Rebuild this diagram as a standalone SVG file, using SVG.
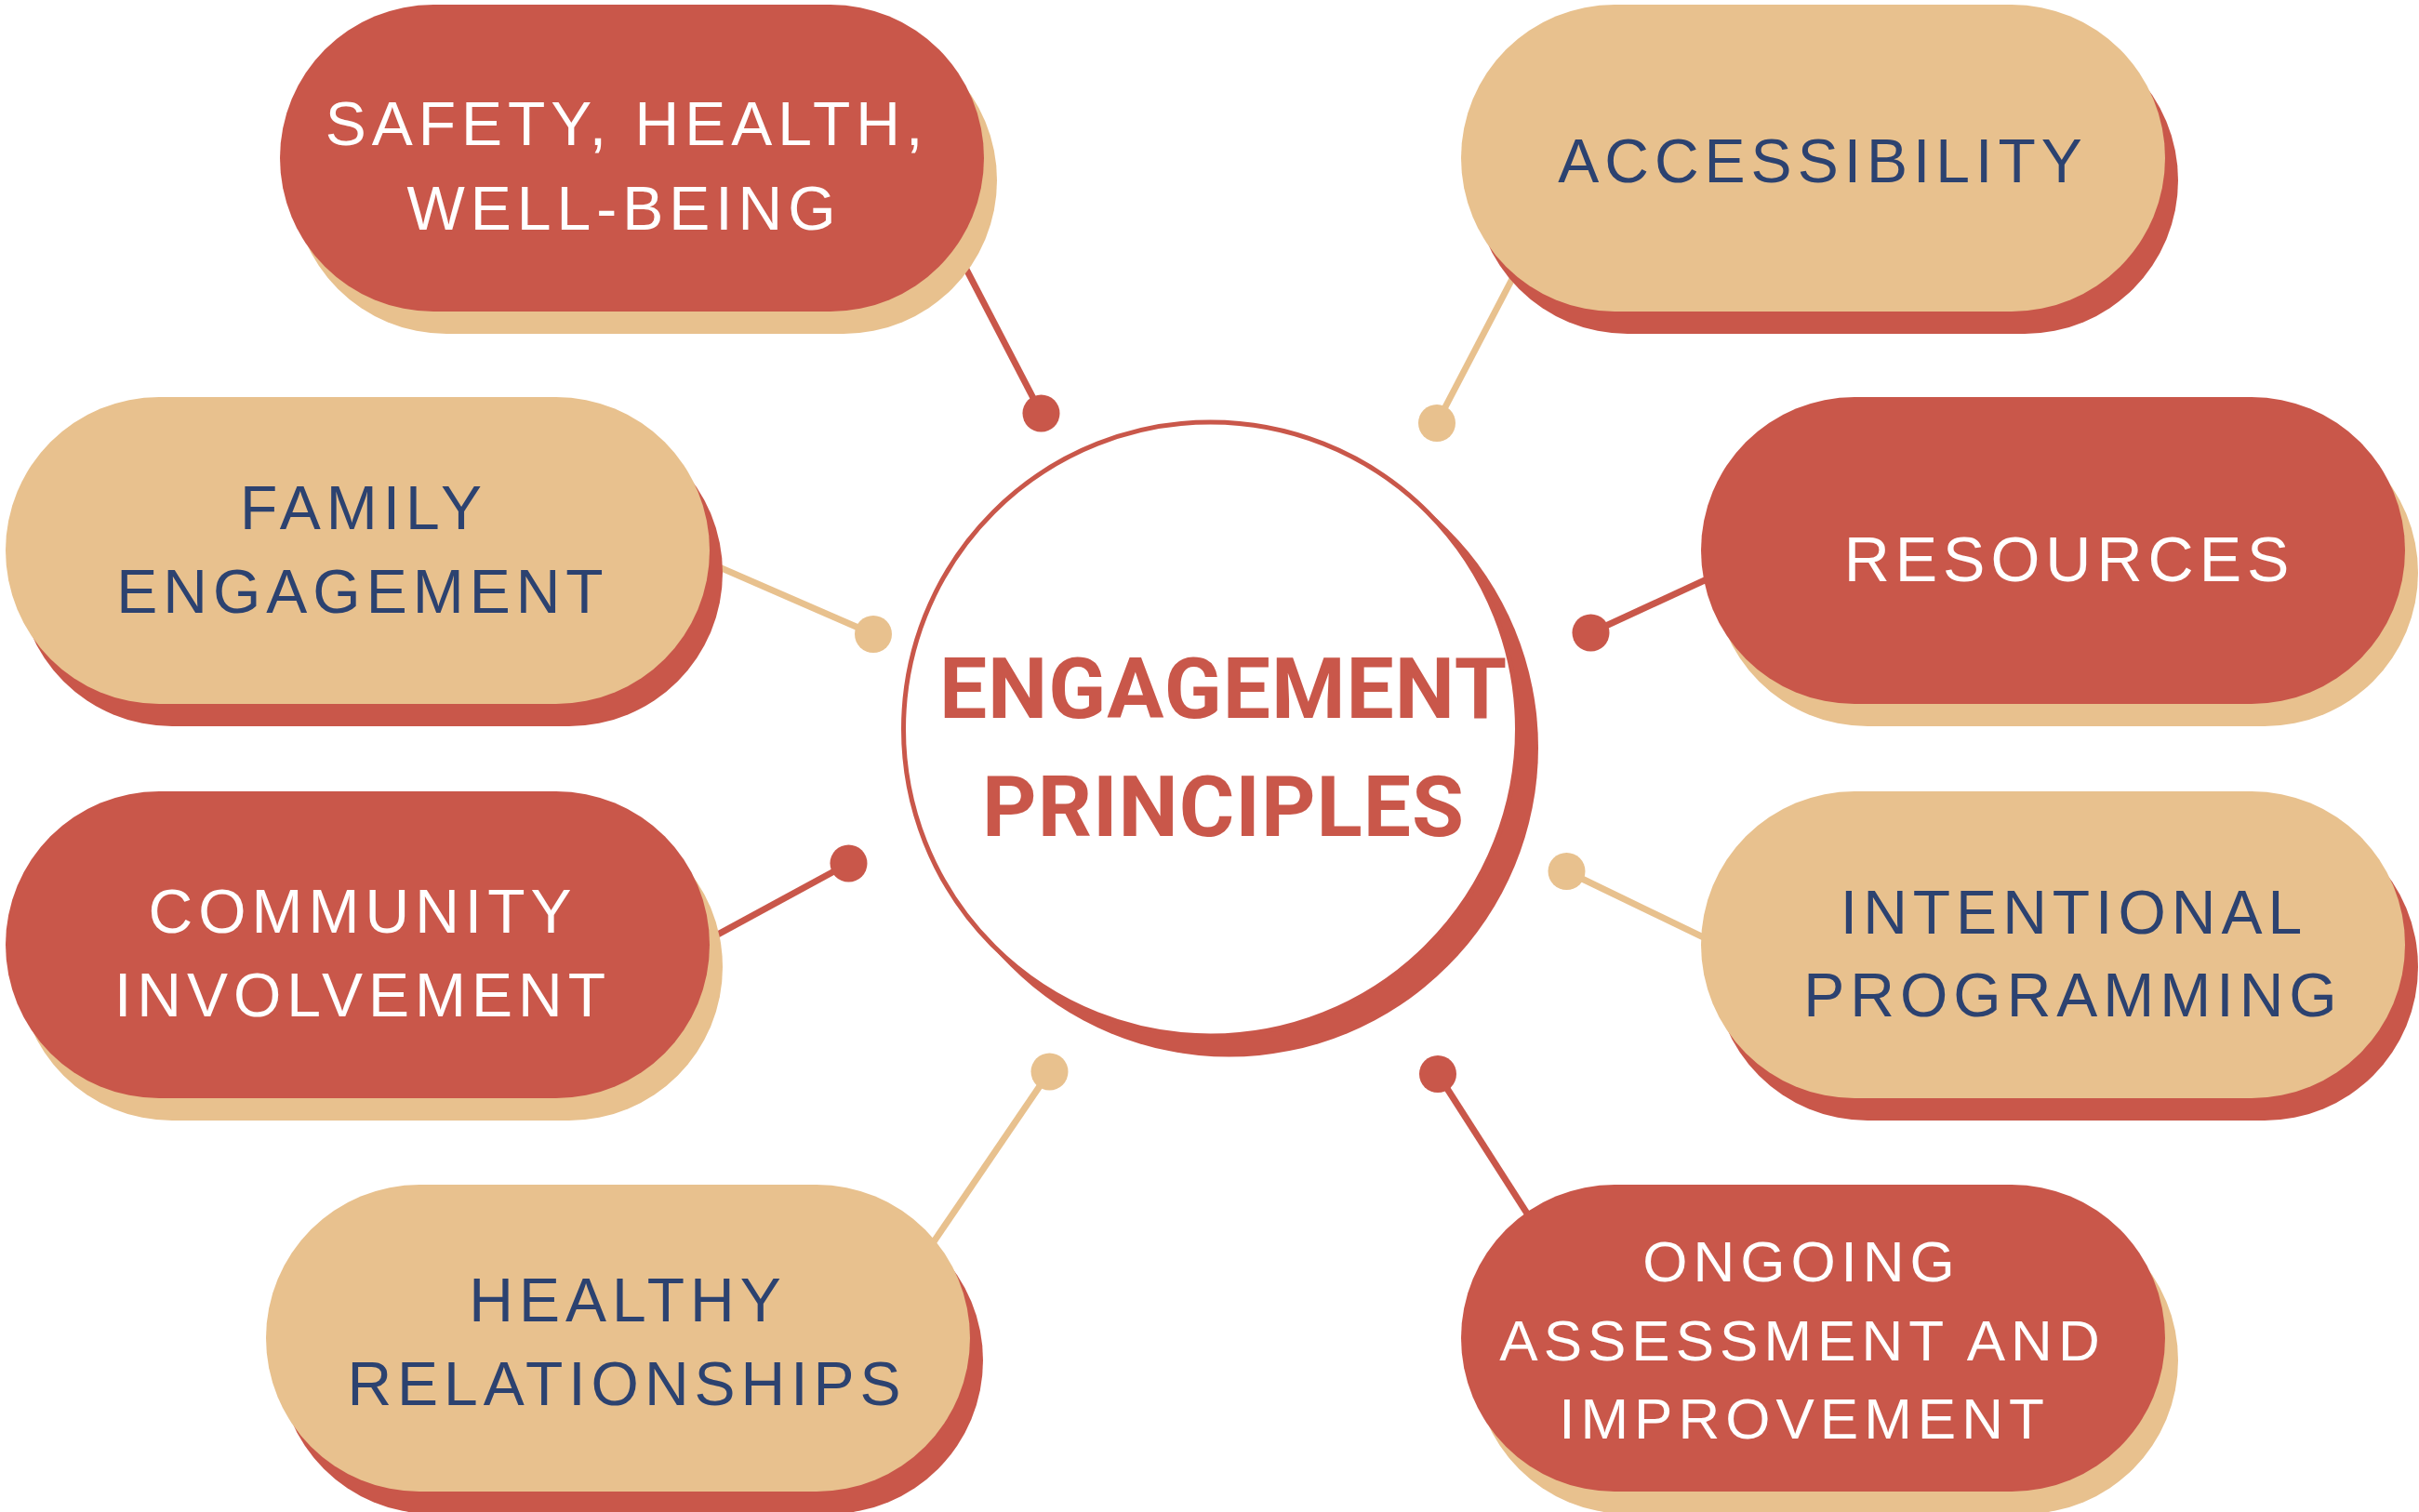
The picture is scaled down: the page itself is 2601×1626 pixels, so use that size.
<svg xmlns="http://www.w3.org/2000/svg" width="2601" height="1626" viewBox="0 0 2601 1626">
<style>
.red{fill:#C9574A}
.tan{fill:#E8C18E}
.lbl{font-family:"Liberation Sans",Arial,sans-serif;font-size:66px;letter-spacing:6px;text-anchor:middle}
.sm{font-size:62px}
.w{fill:#FFFFFF}
.b{fill:#2C4270}
.title{font-family:Roboto,"Liberation Sans",sans-serif;font-weight:700;font-size:91px;letter-spacing:1px;fill:#C9574A;text-anchor:middle}
.lr{stroke:#C9574A;stroke-width:7;fill:none}
.lt{stroke:#E8C18E;stroke-width:7;fill:none}
</style>
<rect width="2601" height="1626" fill="#FFFFFF"/>
<g id="connectors">
  <line class="lr" x1="1020" y1="253" x2="1119.5" y2="444.5"/>
  <circle class="red" cx="1119.5" cy="444.5" r="20"/>
  <line class="lt" x1="1640" y1="273" x2="1545" y2="455"/>
  <circle class="tan" cx="1545" cy="455" r="20"/>
  <line class="lt" x1="700" y1="578" x2="939" y2="682"/>
  <circle class="tan" cx="939" cy="682" r="20"/>
  <line class="lr" x1="1900" y1="593" x2="1710.5" y2="680.5"/>
  <circle class="red" cx="1710.5" cy="680.5" r="20"/>
  <line class="lr" x1="700" y1="1044" x2="912.5" y2="928.5"/>
  <circle class="red" cx="912.5" cy="928.5" r="20"/>
  <line class="lt" x1="1900" y1="1041" x2="1684.5" y2="937"/>
  <circle class="tan" cx="1684.5" cy="937" r="20"/>
  <line class="lt" x1="960" y1="1400" x2="1128.5" y2="1152.5"/>
  <circle class="tan" cx="1128.5" cy="1152.5" r="20"/>
  <line class="lr" x1="1690" y1="1380" x2="1546" y2="1155"/>
  <circle class="red" cx="1546" cy="1155" r="20"/>
</g>
<g id="center">
  <circle class="red" cx="1321.5" cy="804" r="332.5"/>
  <circle cx="1301.5" cy="784" r="330" fill="#FFFFFF" stroke="#C9574A" stroke-width="5"/>
  <text class="title" x="1315.5" y="772">ENGAGEMENT</text>
  <text class="title" x="1315.5" y="899">PRINCIPLES</text>
</g>
<g id="safety">
  <rect class="tan" x="315" y="29" width="757" height="330" rx="165"/>
  <rect class="red" x="301" y="5" width="757" height="330" rx="165"/>
  <text class="lbl w" x="674" y="156">SAFETY, HEALTH,</text>
  <text class="lbl w" x="671" y="247">WELL-BEING</text>
</g>
<g id="accessibility">
  <rect class="red" x="1585" y="29" width="757" height="330" rx="165"/>
  <rect class="tan" x="1571" y="5" width="757" height="330" rx="165"/>
  <text class="lbl b" x="1960" y="196">ACCESSIBILITY</text>
</g>
<g id="family">
  <rect class="red" x="20" y="451" width="757" height="330" rx="165"/>
  <rect class="tan" x="6" y="427" width="757" height="330" rx="165"/>
  <text class="lbl b" x="391" y="569">FAMILY</text>
  <text class="lbl b" x="390" y="659">ENGAGEMENT</text>
</g>
<g id="resources">
  <rect class="tan" x="1843" y="451" width="757" height="330" rx="165"/>
  <rect class="red" x="1829" y="427" width="757" height="330" rx="165"/>
  <text class="lbl w" x="2225" y="625" style="font-size:68px">RESOURCES</text>
</g>
<g id="community">
  <rect class="tan" x="20" y="875" width="757" height="330" rx="165"/>
  <rect class="red" x="6" y="851" width="757" height="330" rx="165"/>
  <text class="lbl w" x="390" y="1003">COMMUNITY</text>
  <text class="lbl w" x="390" y="1093">INVOLVEMENT</text>
</g>
<g id="intentional">
  <rect class="red" x="1843" y="875" width="757" height="330" rx="165"/>
  <rect class="tan" x="1829" y="851" width="757" height="330" rx="165"/>
  <text class="lbl b" x="2230" y="1004">INTENTIONAL</text>
  <text class="lbl b" x="2229" y="1093">PROGRAMMING</text>
</g>
<g id="healthy">
  <rect class="red" x="300" y="1298" width="757" height="330" rx="165"/>
  <rect class="tan" x="286" y="1274" width="757" height="330" rx="165"/>
  <text class="lbl b" x="675" y="1421">HEALTHY</text>
  <text class="lbl b" x="674" y="1511">RELATIONSHIPS</text>
</g>
<g id="ongoing">
  <rect class="tan" x="1585" y="1298" width="757" height="330" rx="165"/>
  <rect class="red" x="1571" y="1274" width="757" height="330" rx="165"/>
  <text class="lbl sm w" x="1937" y="1378">ONGOING</text>
  <text class="lbl sm w" x="1938" y="1463">ASSESSMENT AND</text>
  <text class="lbl sm w" x="1940" y="1547">IMPROVEMENT</text>
</g>
</svg>
